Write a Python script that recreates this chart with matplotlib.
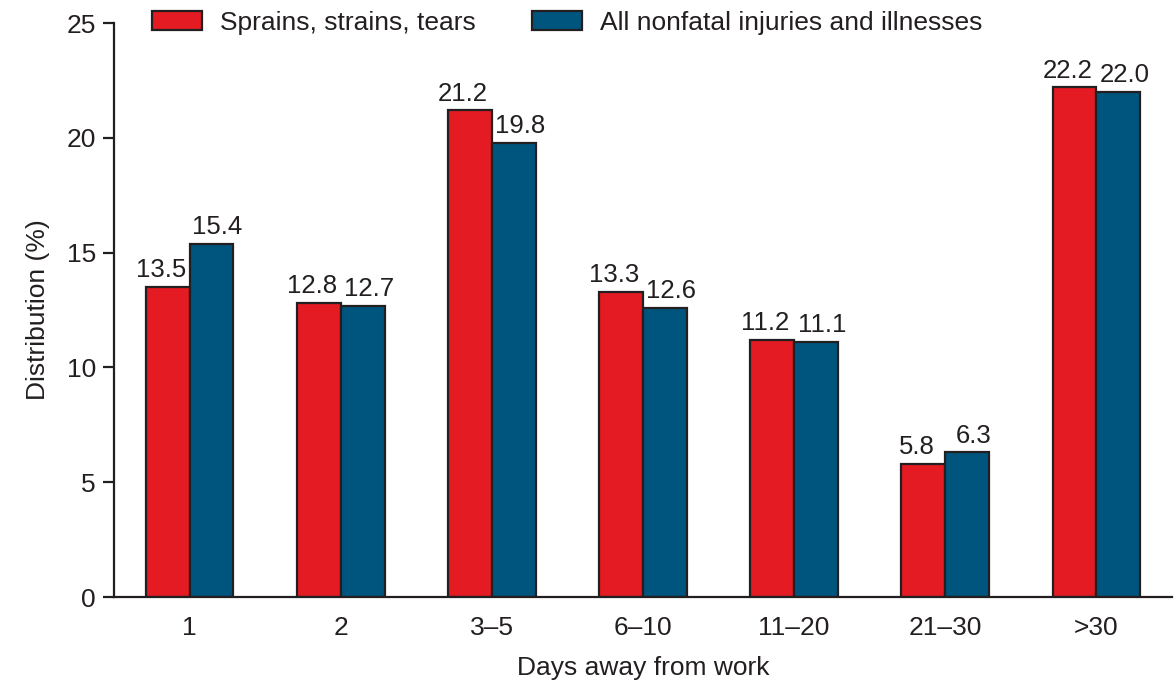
import numpy as np
import matplotlib
matplotlib.use('Agg')
import matplotlib.pyplot as plt
from matplotlib.patches import Patch

categories = ['1', '2', '3\u20135', '6\u201310', '11\u201320', '21\u201330', '>30']
sprains = [13.5, 12.8, 21.2, 13.3, 11.2, 5.8, 22.2]
all_injuries = [15.4, 12.7, 19.8, 12.6, 11.1, 6.3, 22.0]
series_names = ['Sprains, strains, tears', 'All nonfatal injuries and illnesses']

red = '#E41B23'
blue = '#00557F'
edge = '#231F20'
fs = 19

plt.rcParams['font.family'] = ['Liberation Sans', 'DejaVu Sans']

fig = plt.figure(figsize=(11.76, 6.82), dpi=100)
ax = fig.add_axes([0.097, 0.1246, 0.8996, 0.8414])

x = np.arange(len(categories))
w = 0.29
b1 = ax.bar(x - w / 2, sprains, w, color=red, edgecolor=edge, linewidth=1.6)
b2 = ax.bar(x + w / 2, all_injuries, w, color=blue, edgecolor=edge, linewidth=1.6)

# labels sit slightly outward from each bar's centre, like the original
for bars, vals, dx in ((b1, sprains, -0.045), (b2, all_injuries, 0.04)):
    for r, v in zip(bars, vals):
        ax.text(r.get_x() + r.get_width() / 2 + dx, v + 0.43, f'{v:.1f}',
                ha='center', va='baseline', fontsize=18.5, color=edge)

ax.set_xlim(-0.5, 6.5)
ax.set_ylim(0, 25)
ax.set_yticks([0, 5, 10, 15, 20, 25])
ax.set_xticks(x)
ax.set_xticklabels(categories)
ax.tick_params(axis='x', length=0, pad=14, labelsize=fs, colors=edge)
ax.tick_params(axis='y', length=8, width=1.6, labelsize=fs, colors=edge, pad=5)
for s in ('top', 'right'):
    ax.spines[s].set_visible(False)
for s in ('left', 'bottom'):
    ax.spines[s].set_linewidth(1.6)
    ax.spines[s].set_color(edge)

ax.set_ylabel('Distribution (%)', fontsize=fs, color=edge, labelpad=12)
ax.set_xlabel('Days away from work', fontsize=fs, color=edge, labelpad=11)

handles = [Patch(facecolor=red, edgecolor=edge, linewidth=1.6),
           Patch(facecolor=blue, edgecolor=edge, linewidth=1.6)]
fig.legend(handles, series_names, loc='center left', bbox_to_anchor=(0.129, 0.967),
           ncol=2, frameon=False, fontsize=fs, handlelength=1.9, handleheight=0.75,
           columnspacing=2.15, handletextpad=0.68, labelcolor=edge,
           borderpad=0, borderaxespad=0)

fig.savefig('out.png', dpi=100)
